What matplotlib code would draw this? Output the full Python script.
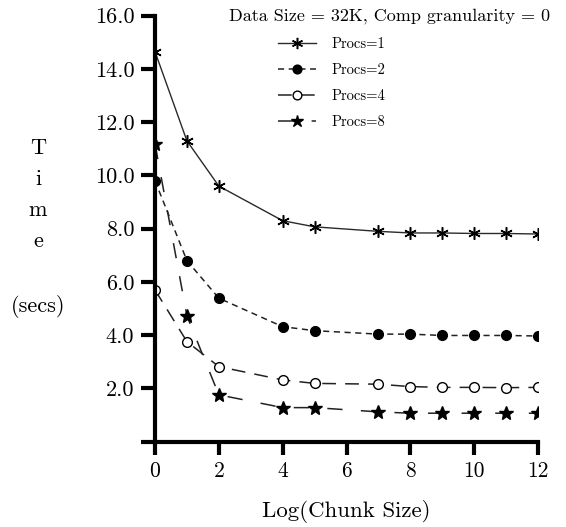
import matplotlib
matplotlib.use("Agg")
import matplotlib.pyplot as plt

# log2 of chunk size
chunk_log = [0, 1, 2, 4, 5, 7, 8, 9, 10, 11, 12]

# execution time in seconds for each processor count
procs1 = [14.65, 11.3, 9.6, 8.3, 8.07, 7.9, 7.84, 7.84, 7.82, 7.82, 7.80]
procs2 = [9.8, 6.8, 5.39, 4.32, 4.17, 4.04, 4.04, 3.99, 3.99, 3.99, 3.97]
procs4 = [5.7, 3.76, 2.82, 2.32, 2.19, 2.16, 2.07, 2.04, 2.04, 2.03, 2.04]
procs8 = [11.18, 4.73, 1.76, 1.28, 1.28, 1.12, 1.07, 1.07, 1.07, 1.07, 1.07]

labels = ["Procs=1", "Procs=2", "Procs=4", "Procs=8"]
x_ticks = [0, 2, 4, 6, 8, 10, 12]
y_ticks = [0, 2, 4, 6, 8, 10, 12, 14, 16]

FONT = "cmr10"
W, H = 566, 527

fig = plt.figure(figsize=(W / 100, H / 100), dpi=100)
ax = fig.add_axes([155 / W, 85.3 / H, 383 / W, 426 / H])

series = [procs1, procs2, procs4, procs8]
styles = [
    dict(linestyle="-", linewidth=1.0, marker=(6, 2, 0), markersize=9,
         markeredgewidth=1.1, color="#2a2a2a", markeredgecolor="black"),
    dict(linestyle=(0, (4, 3)), linewidth=1.1, marker="o", markersize=7,
         color="#222222", markerfacecolor="black", markeredgecolor="black"),
    dict(linestyle=(0, (9, 6)), linewidth=1.1, marker="o", markersize=7,
         color="#222222", markerfacecolor="white", markeredgecolor="black",
         markeredgewidth=1.0),
    dict(linestyle=(0, (10, 12)), linewidth=1.1, marker="*", markersize=10,
         color="#222222", markerfacecolor="black", markeredgecolor="black"),
]

handles = []
for ys, st, lab in zip(series, styles, labels):
    ln, = ax.plot(chunk_log, ys, label=lab, **st)
    handles.append(ln)

ax.set_xlim(0, 12)
ax.set_ylim(0, 16)
for side in ("top", "right"):
    ax.spines[side].set_visible(False)
for side in ("left", "bottom"):
    ax.spines[side].set_linewidth(3)
    ax.spines[side].set_color("black")

ax.set_xticks(x_ticks)
ax.set_xticklabels([str(v) for v in x_ticks], fontfamily=FONT, fontsize=15.5)
ax.set_yticks(y_ticks)
ax.set_yticklabels(["" if v == 0 else f"{v:.1f}" for v in y_ticks],
                   fontfamily=FONT, fontsize=16)
ax.tick_params(axis="x", direction="out", length=9, width=3, pad=5)
ax.tick_params(axis="y", direction="out", length=10, width=3, pad=5)

ax.set_xlabel("Log(Chunk Size)", fontfamily=FONT, fontsize=16.5, labelpad=14)

fig.text(38 / W, 1 - 228 / H, "T\ni\nm\ne\n\n(secs)", fontfamily=FONT,
         fontsize=16, ha="center", va="center", multialignment="center",
         linespacing=1.75)

fig.text(390 / W, 1 - 16 / H, "Data Size = 32K, Comp granularity = 0",
         fontfamily=FONT, fontsize=13, ha="center", va="center")

leg = fig.legend(handles=handles, labels=labels, loc="upper left",
                 bbox_to_anchor=(278 / W, 1 - 37 / H), frameon=False,
                 prop={"family": FONT, "size": 10.5}, handlelength=2.6,
                 labelspacing=0.85, handletextpad=1.1, borderpad=0,
                 borderaxespad=0, markerscale=0.9)

fig.savefig("out.png", dpi=100)
